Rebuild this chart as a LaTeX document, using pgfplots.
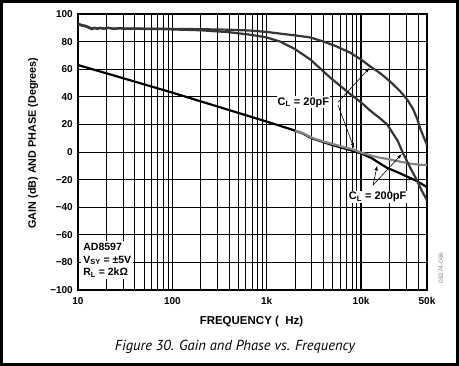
\documentclass[border=0pt]{standalone}
\usepackage{fontspec}
\setmainfont{Liberation Sans}
\newfontfamily\capfont{PT Sans}
\usepackage{pgfplots}
\pgfplotsset{compat=1.18}
\definecolor{phasecol}{HTML}{363636}
\definecolor{gaincol}{HTML}{858585}
\begin{document}
\begin{tikzpicture}[x=1pt,y=1pt]
\useasboundingbox (0,0) rectangle (459,366);
\fill[white] (0,0) rectangle (459,366);
\draw[line width=3pt] (1.5,1.5) rectangle (457.5,364.5);
\begin{axis}[
  at={(78pt,76pt)}, anchor=south west,
  scale only axis, width=349pt, height=276pt,
  xmode=log, xmin=10, xmax=50000, ymin=-100, ymax=100,
  xtick={10,100,1000,10000,50000},
  xticklabels={10,100,1k,10k,50k},
  minor xtick={20,30,40,50,60,70,80,90,200,300,400,500,600,700,800,900,2000,3000,4000,5000,6000,7000,8000,9000,20000,30000,40000},
  ytick={-100,-80,-60,-40,-20,0,20,40,60,80,100},
  yticklabels={−100,−80,−60,−40,−20,0,20,40,60,80,100},
  xmajorgrids, xminorgrids, ymajorgrids,
  major x grid style={black, line width=1.3pt},
  minor x grid style={black, line width=0.7pt},
  major y grid style={black, line width=0.8pt},
  major tick length=0pt, minor tick length=0pt,
  axis line style={line width=1.5pt},
  tick label style={font=\bfseries\fontsize{10}{12}\selectfont},
  yticklabel style={anchor=east, inner sep=0pt, xshift=-5pt},
  xticklabel style={anchor=north, inner sep=0pt, yshift=-7pt},
  clip=true,
]
% gain, C_L = 200pF (black)
\addplot[black, line width=2.2pt] coordinates {
(10,63)(30,53.5)(100,43)(300,33)(1000,22)(1800,16.5)(2400,13.5)(2800,11)(3100,9.6)(5000,5)(8200,0.8)(10000,-1)(13000,-4.5)(16000,-8.5)(18900,-11.5)(25000,-15)(30000,-17.5)(39000,-21)(50000,-25.5)};
% gain, C_L = 20pF (gray)
\addplot[gaincol, line width=2.2pt] coordinates {
(2000,15.5)(2400,13.8)(2800,11.5)(3100,10)(4000,7.6)(5000,5.8)(6500,3.6)(8200,1.8)(10000,-0.3)(13000,-2.8)(16000,-4.2)(18900,-5)(25000,-6.8)(30000,-7.8)(35000,-8.7)(42000,-9.2)(50000,-9.5)};
% phase, C_L = 200pF
\addplot[phasecol, line width=2.2pt] coordinates {
(10,92.5)(10.5,92)(11,91.5)(12,91)(13,90)(14,89)(15,89.8)(16,89.2)(17,89.8)(19,89.3)(21,89.9)(24,89.2)(28,89.6)(32,89.3)(40,89.4)(50,89.1)(70,89.2)(100,88.8)(200,88.2)(400,86.8)(667,85)(1000,83)(1390,80)(2000,74.5)(2900,67)(4700,54)(7660,42)(10000,36)(12500,30)(15500,25)(18900,20)(22000,13)(24500,8)(27900,-1)(33000,-11)(39400,-21)(44000,-28)(50000,-35)};
% phase, C_L = 20pF
\addplot[phasecol, line width=2.2pt] coordinates {
(10,93)(10.5,92.5)(11,92)(12,91.5)(13,90.5)(14,89.5)(15,90)(16,89.4)(17,90)(19,89.5)(21,90)(24,89.4)(28,89.8)(32,89.5)(40,89.6)(50,89.4)(70,89.4)(100,89.2)(200,89)(400,88.6)(667,88)(1000,87)(1500,85.5)(2000,84.5)(2900,83)(4000,80)(5500,76.5)(7660,72)(10000,67)(12500,62)(16000,57)(20400,51)(26000,44)(30800,38)(35700,31)(39400,24)(42400,17)(46000,11)(50000,5)};
% annotations
\node[font=\bfseries\fontsize{11}{13}\selectfont, fill=white, inner sep=1pt] at (axis cs:2450,36) {C\textsubscript{L} = 20pF};
\draw[line width=0.6pt, -latex] (axis cs:5700,36) -- (axis cs:12300,61);
\draw[line width=0.6pt, -latex] (axis cs:5700,34) -- (axis cs:8400,3);
\node[font=\bfseries\fontsize{11}{13}\selectfont, fill=white, inner sep=1pt] at (axis cs:15000,-32.5) {C\textsubscript{L} = 200pF};
\draw[line width=0.6pt, -latex] (axis cs:13400,-24) -- (axis cs:14800,-10);
\draw[line width=0.6pt, -latex] (axis cs:13400,-24) -- (axis cs:27000,-1.5);
\node[font=\bfseries\fontsize{10.5}{12.5}\selectfont, fill=white, inner sep=2pt, anchor=north west, align=left] at (axis cs:10.8,-64.5) {AD8597\\V\textsubscript{SY} = ±5V\\R\textsubscript{L} = 2kΩ};
\end{axis}
\node[font=\bfseries\fontsize{11.5}{13}\selectfont] at (251.5,44) {FREQUENCY (~~Hz)};
\node[font=\bfseries\fontsize{10.8}{12}\selectfont, rotate=90] at (33,223) {GAIN (dB) AND PHASE (Degrees)};
\node[font=\capfont\itshape\fontsize{14.5}{16}\selectfont] at (235,19) {Figure 30. Gain and Phase vs. Frequency};
\node[font=\fontsize{6.5}{7}\selectfont, text=black!45, rotate=90] at (441,98) {08274-066};
\end{tikzpicture}
\end{document}
